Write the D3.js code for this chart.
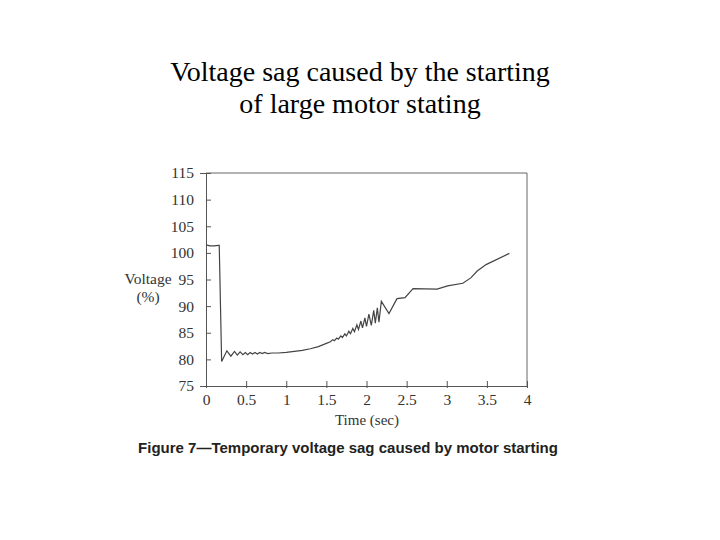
<!DOCTYPE html>
<html>
<head>
<meta charset="utf-8">
<script src="https://cdn.jsdelivr.net/npm/d3@7"></script>
<style>
  body { margin: 0; background: #fff; }
  svg { display: block; }
</style>
</head>
<body>
<div id="chart"></div>
<script>
// time (sec) and voltage (%)
let times = [0, 0.05, 0.1, 0.155, 0.165, 0.195, 0.26, 0.31, 0.355, 0.39, 0.425, 0.46, 0.49, 0.52, 0.55,
  0.58, 0.61, 0.64, 0.67, 0.7, 0.73, 0.77, 0.82, 0.9, 1.0, 1.1, 1.2, 1.3, 1.4, 1.5,
  1.55, 1.58, 1.6, 1.63, 1.65, 1.68, 1.7, 1.73, 1.75, 1.78, 1.8, 1.83, 1.85, 1.88, 1.9,
  1.93, 1.95, 1.98, 2.0, 2.03, 2.06, 2.09, 2.11, 2.135, 2.155, 2.185, 2.28, 2.38, 2.48,
  2.58, 2.88, 3.01, 3.2, 3.3, 3.38, 3.49, 3.78]
let voltage = [101.5, 101.3, 101.3, 101.4, 101.4, 79.6, 81.6, 80.6, 81.5, 80.8, 81.4, 80.9, 81.3, 80.9, 81.3,
  81.0, 81.3, 81.0, 81.3, 81.1, 81.3, 81.1, 81.2, 81.2, 81.3, 81.5, 81.7, 82.0, 82.4, 83.0,
  83.3, 83.7, 83.5, 84.0, 83.8, 84.4, 84.1, 84.8, 84.4, 85.3, 84.8, 85.8, 85.2, 86.5, 85.6,
  87.2, 85.9, 87.8, 86.2, 88.5, 86.4, 89.2, 86.8, 89.7, 87.0, 90.9, 88.6, 91.4, 91.6,
  93.3, 93.2, 93.8, 94.3, 95.3, 96.6, 97.8, 99.9]
let xTicks = [0, 0.5, 1, 1.5, 2, 2.5, 3, 3.5, 4]
let yTicks = [75, 80, 85, 90, 95, 100, 105, 110, 115]

let points = times.map((t, i) => [t, voltage[i]])

let width = 720
let height = 540
let serif = 'Liberation Serif, Times New Roman, serif'

let svg = d3
  .select('#chart')
  .append('svg')
  .attr('width', width)
  .attr('height', height)

let xScale = d3.scaleLinear().domain([0, 4]).range([206, 527])
let yScale = d3.scaleLinear().domain([75, 115]).range([386, 173])

// page title
svg
  .append('text')
  .attr('x', 360)
  .attr('y', 81)
  .attr('text-anchor', 'middle')
  .attr('font-family', serif)
  .attr('font-size', '28px')
  .text('Voltage sag caused by the starting')

svg
  .append('text')
  .attr('x', 360)
  .attr('y', 113)
  .attr('text-anchor', 'middle')
  .attr('font-family', serif)
  .attr('font-size', '28px')
  .text('of large motor stating')

// frame (top + right)
svg
  .append('path')
  .attr('d', `M${xScale(0)},${yScale(115)}H${xScale(4)}V${yScale(75)}`)
  .attr('fill', 'none')
  .attr('stroke', '#666')
  .attr('stroke-width', 1)

let xAxis = svg
  .append('g')
  .attr('transform', `translate(0,${yScale(75)})`)
  .call(
    d3.axisBottom(xScale)
      .tickValues(xTicks)
      .tickFormat(d3.format('~g'))
      .tickSizeOuter(0)
      .tickSize(2)
      .tickPadding(6)
  )

xAxis.selectAll('.tick line').attr('y1', -5)

let yAxis = svg
  .append('g')
  .attr('transform', `translate(${xScale(0)},0)`)
  .call(d3.axisLeft(yScale).tickValues(yTicks).tickSizeOuter(0).tickSize(6).tickPadding(6))

yAxis.selectAll('.tick line').attr('x2', 5)

svg.selectAll('.domain').attr('stroke', '#555')
svg.selectAll('.tick line').attr('stroke', '#555')
svg
  .selectAll('.tick text')
  .attr('font-family', serif)
  .attr('font-size', '15.5px')
  .attr('fill', '#333')

// axis titles
svg
  .append('text')
  .attr('x', 148)
  .attr('y', 284)
  .attr('text-anchor', 'middle')
  .attr('font-family', serif)
  .attr('font-size', '15.5px')
  .attr('fill', '#333')
  .text('Voltage')

svg
  .append('text')
  .attr('x', 148)
  .attr('y', 302)
  .attr('text-anchor', 'middle')
  .attr('font-family', serif)
  .attr('font-size', '15.5px')
  .attr('fill', '#333')
  .text('(%)')

svg
  .append('text')
  .attr('x', 367)
  .attr('y', 425)
  .attr('text-anchor', 'middle')
  .attr('font-family', serif)
  .attr('font-size', '15px')
  .attr('fill', '#333')
  .text('Time (sec)')

// the voltage trace
let line = d3
  .line()
  .x(d => xScale(d[0]))
  .y(d => yScale(d[1]))

svg
  .append('path')
  .datum(points)
  .attr('d', line)
  .attr('fill', 'none')
  .attr('stroke', '#444')
  .attr('stroke-width', 1.2)

// caption
svg
  .append('text')
  .attr('x', 348)
  .attr('y', 453)
  .attr('text-anchor', 'middle')
  .attr('font-family', 'Liberation Sans, Arial, sans-serif')
  .attr('font-weight', 'bold')
  .attr('font-size', '15px')
  .attr('fill', '#222')
  .text('Figure 7\u2014Temporary voltage sag caused by motor starting')
</script>
</body>
</html>
